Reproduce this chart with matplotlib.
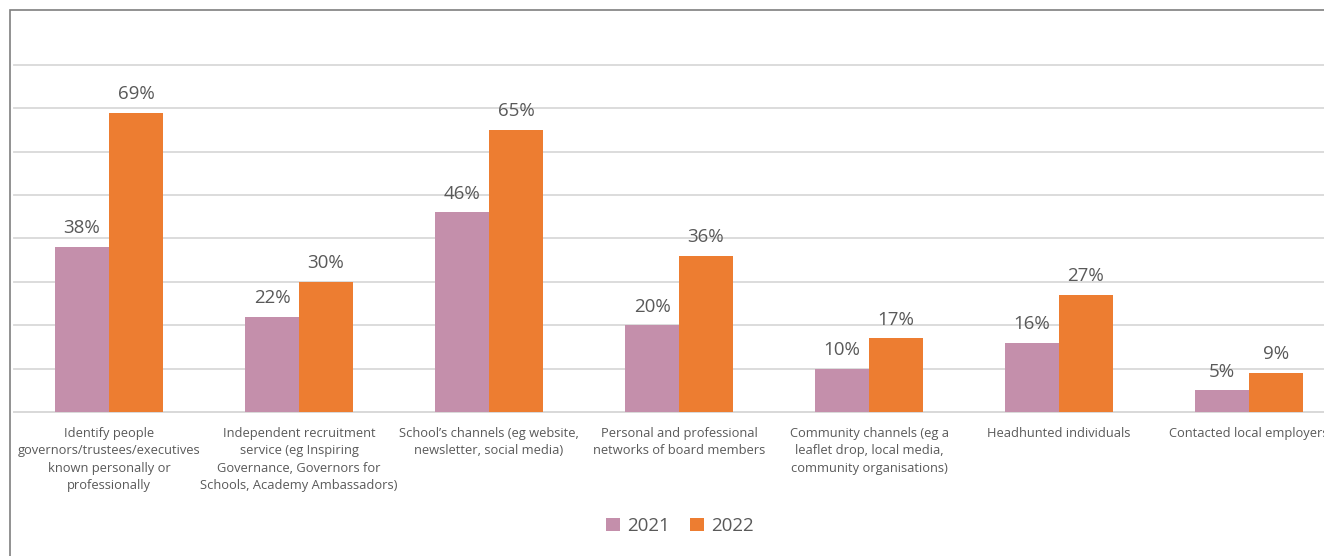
import numpy as np
import matplotlib.pyplot as plt
from matplotlib.patches import Rectangle

categories = [
    "Identify people\ngovernors/trustees/executives\nknown personally or\nprofessionally",
    "Independent recruitment\nservice (eg Inspiring\nGovernance, Governors for\nSchools, Academy Ambassadors)",
    "School\u2019s channels (eg website,\nnewsletter, social media)",
    "Personal and professional\nnetworks of board members",
    "Community channels (eg a\nleaflet drop, local media,\ncommunity organisations)",
    "Headhunted individuals",
    "Contacted local employers",
]
vals_2021 = [38, 22, 46, 20, 10, 16, 5]
vals_2022 = [69, 30, 65, 36, 17, 27, 9]

c2021 = "#C48FAB"
c2022 = "#ED7D31"
txt = "#595959"

plt.rcParams['font.family'] = ['Open Sans', 'DejaVu Sans']

W, H = 1324, 556
fig = plt.figure(figsize=(W / 100, H / 100), dpi=100)

# plot area runs past the right edge of the canvas
ax = fig.add_axes([14 / W, (H - 412) / H, 1330 / W, 347 / H])

x = np.arange(len(categories))
bw = 0.284
b1 = ax.bar(x - bw / 2, vals_2021, bw, color=c2021, label="2021", zorder=3)
b2 = ax.bar(x + bw / 2, vals_2022, bw, color=c2022, label="2022", zorder=3)

for bars, vals in ((b1, vals_2021), (b2, vals_2022)):
    for b, v in zip(bars, vals):
        ax.annotate(f"{v}%", (b.get_x() + b.get_width() / 2, v),
                    xytext=(0, 7), textcoords="offset points",
                    ha="center", va="bottom", fontsize=13.5, color=txt)

ax.set_xlim(-0.5, len(categories) - 0.5)
ax.set_ylim(0, 80)
ax.set_yticks(np.arange(0, 81, 10))
ax.yaxis.grid(True, color="#D9D9D9", linewidth=1.3, zorder=0)
for gl in ax.get_ygridlines():
    gl.set_clip_on(False)
ax.tick_params(axis="y", left=False, labelleft=False)
ax.tick_params(axis="x", bottom=False, pad=7)
ax.set_xticks(x)
ax.set_xticklabels(categories, fontsize=9.3, color=txt, linespacing=1.45)
for s in ("left", "right", "top"):
    ax.spines[s].set_visible(False)
ax.spines["bottom"].set_color("#D9D9D9")
ax.spines["bottom"].set_linewidth(1.3)

fig.legend(handles=[b1, b2], loc="center", bbox_to_anchor=(680 / W, 1 - 526 / H),
           ncol=2, frameon=False, fontsize=13.5, labelcolor=txt,
           handlelength=0.7, handleheight=0.7, handletextpad=0.4, columnspacing=1.1)

# outer chart border (cropped on the right and bottom)
fig.patches.append(Rectangle((10 / W, -0.1), 1.2, 1 - 10 / H + 0.1,
                             transform=fig.transFigure, fill=False,
                             edgecolor="#7F7F7F", linewidth=1.2))

fig.savefig("out.png", dpi=100)
